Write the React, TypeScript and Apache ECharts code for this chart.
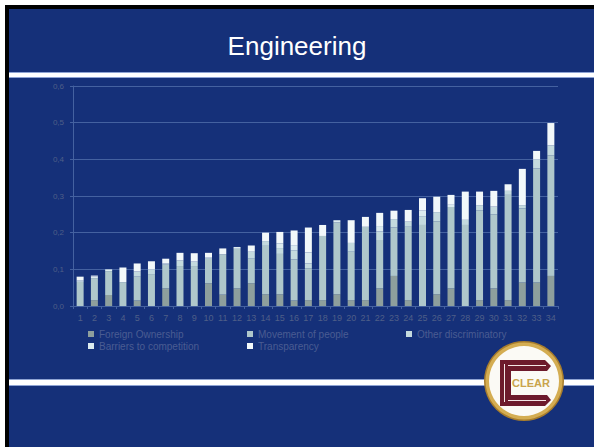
import { useEffect, useRef } from "react";
import * as echarts from "echarts";

// Country index along the x axis
const categories = [
  "1", "2", "3", "4", "5", "6", "7", "8", "9", "10", "11", "12", "13", "14", "15", "16", "17",
  "18", "19", "20", "21", "22", "23", "24", "25", "26", "27", "28", "29", "30", "31", "32", "33", "34",
];

const seriesNames = [
  "Foreign Ownership",
  "Movement of people",
  "Other discriminatory",
  "Barriers to competition",
  "Transparency",
];

const foreignOwnership = [
  0, 0.016, 0.03, 0, 0.015, 0, 0.048, 0, 0, 0.062, 0.031, 0.048, 0.062, 0.032, 0.032, 0.015, 0.016,
  0.016, 0.032, 0.016, 0.016, 0.048, 0.082, 0.016, 0, 0.032, 0.048, 0, 0.016, 0.048, 0.016, 0.064, 0.064, 0.082,
];
const movementOfPeople = [
  0.066, 0.06, 0.065, 0.065, 0.065, 0.087, 0.065, 0.109, 0.109, 0.067, 0.11, 0.108, 0.067, 0.132, 0.11, 0.112, 0.087,
  0.175, 0.196, 0.132, 0.2, 0.132, 0.132, 0.2, 0.221, 0.199, 0.222, 0.221, 0.245, 0.202, 0.287, 0.202, 0.311, 0.329,
];
const otherDiscriminatory = [
  0, 0, 0, 0, 0.014, 0.013, 0, 0.015, 0.012, 0, 0, 0, 0.019, 0.013, 0.016, 0.025, 0.013,
  0, 0, 0.024, 0, 0.023, 0.023, 0.014, 0.024, 0.025, 0, 0.014, 0.014, 0.021, 0.011, 0.009, 0.025, 0.027,
];
const barriersToCompetition = [
  0.004, 0.004, 0.005, 0, 0, 0, 0.003, 0, 0, 0.004, 0, 0.005, 0, 0, 0.013, 0.014, 0.03,
  0, 0.006, 0, 0, 0.015, 0, 0, 0.015, 0, 0.006, 0, 0, 0, 0, 0, 0, 0,
];
const transparency = [
  0.01, 0.003, 0, 0.04, 0.022, 0.022, 0.013, 0.021, 0.023, 0.012, 0.016, 0, 0.017, 0.023, 0.031, 0.04, 0.068,
  0.03, 0, 0.062, 0.027, 0.036, 0.023, 0.032, 0.034, 0.042, 0.027, 0.077, 0.037, 0.043, 0.018, 0.099, 0.023, 0.061,
];

const seriesColors = ["#8e9f9d", "#afc7cb", "#c4dade", "#dcebef", "#f2f8fa"];

const NAVY = "#153079";
const AXIS_TEXT = "#4f5f88";
const GRID_LINE = "#4461a0";

export default function App() {
  const ref = useRef<HTMLDivElement>(null);

  useEffect(() => {
    if (!ref.current) return;
    const chart = echarts.init(ref.current, undefined, { renderer: "svg" });
    const values = [foreignOwnership, movementOfPeople, otherDiscriminatory, barriersToCompetition, transparency];

    const legendText = { color: "#4a5c92", fontSize: 10, fontFamily: "Liberation Sans, Arial, sans-serif" };
    const legendBase = {
      orient: "vertical" as const,
      top: 329,
      itemWidth: 6,
      itemHeight: 6,
      itemGap: 2,
      icon: "rect",
      padding: 0,
      textStyle: legendText,
      selectedMode: false,
    };

    chart.setOption({
      animation: false,
      backgroundColor: "transparent",
      grid: { left: 73, right: 36, top: 86, bottom: 141, containLabel: false },
      legend: [
        { ...legendBase, left: 88, data: [seriesNames[0], seriesNames[3]] },
        { ...legendBase, left: 247, data: [seriesNames[1], seriesNames[4]] },
        { ...legendBase, left: 406, data: [seriesNames[2]] },
      ],
      xAxis: {
        type: "category",
        data: categories,
        axisLine: { lineStyle: { color: GRID_LINE, width: 1 } },
        axisTick: { show: true, length: 3, lineStyle: { color: GRID_LINE } },
        axisLabel: {
          color: AXIS_TEXT,
          fontSize: 9,
          margin: 7,
          interval: 0,
          fontFamily: "Liberation Sans, Arial, sans-serif",
        },
      },
      yAxis: {
        type: "value",
        min: 0,
        max: 0.6,
        interval: 0.1,
        axisLine: { show: true, lineStyle: { color: GRID_LINE } },
        axisTick: { show: true, length: 3, lineStyle: { color: GRID_LINE } },
        splitLine: { lineStyle: { color: GRID_LINE, width: 1 } },
        axisLabel: {
          color: AXIS_TEXT,
          fontSize: 8,
          margin: 9,
          fontFamily: "Liberation Sans, Arial, sans-serif",
          formatter: (v: number) => v.toFixed(1).replace(".", ","),
        },
      },
      series: seriesNames.map((name, i) => ({
        name,
        type: "bar",
        stack: "total",
        barWidth: 7,
        data: values[i],
        itemStyle: { color: seriesColors[i] },
      })),
      graphic: [
        // title
        {
          type: "text",
          left: "center",
          top: 33,
          style: {
            text: "Engineering",
            fill: "#ffffff",
            fontSize: 26,
            fontFamily: "Liberation Sans, Arial, sans-serif",
          },
        },
        // top rule
        { type: "rect", shape: { x: 9, y: 72, width: 585, height: 6 }, style: { fill: "#8ea3d3" } },
        { type: "rect", shape: { x: 9, y: 73, width: 585, height: 4 }, style: { fill: "#ffffff" } },
        // bottom rule
        { type: "rect", shape: { x: 9, y: 379, width: 585, height: 7 }, style: { fill: "#8ea3d3" } },
        { type: "rect", shape: { x: 9, y: 380, width: 585, height: 5 }, style: { fill: "#ffffff" } },
        // logo badge
        {
          type: "group",
          z: 100,
          children: [
            { type: "circle", shape: { cx: 524, cy: 381, r: 40 }, style: { fill: "#a87d2c" } },
            { type: "circle", shape: { cx: 524, cy: 381, r: 38.5 }, style: { fill: "#d4ad52" } },
            { type: "circle", shape: { cx: 524, cy: 381, r: 35 }, style: { fill: "#fbfaf5" } },
            {
              type: "polygon",
              shape: { points: [[500, 360], [545, 360], [551, 366], [547, 371], [500, 371]] },
              style: { fill: "#6d1a2c" },
            },
            { type: "rect", shape: { x: 500, y: 360, width: 11, height: 46 }, style: { fill: "#6d1a2c" } },
            {
              type: "polygon",
              shape: { points: [[500, 395], [547, 395], [551, 400], [545, 406], [500, 406]] },
              style: { fill: "#6d1a2c" },
            },
            { type: "line", shape: { x1: 504.5, y1: 364, x2: 504.5, y2: 402 }, style: { stroke: "#f4e6e6", lineWidth: 1 } },
            { type: "line", shape: { x1: 508, y1: 365.5, x2: 546, y2: 365.5 }, style: { stroke: "#f4e6e6", lineWidth: 1 } },
            { type: "line", shape: { x1: 508, y1: 400.5, x2: 546, y2: 400.5 }, style: { stroke: "#f4e6e6", lineWidth: 1 } },
            {
              type: "text",
              x: 531,
              y: 383,
              style: {
                text: "CLEAR",
                fill: "#c9a44c",
                fontSize: 11,
                fontWeight: "bold",
                fontFamily: "Liberation Sans, Arial, sans-serif",
                align: "center",
                verticalAlign: "middle",
              },
            },
          ],
        },
      ],
    });

    return () => chart.dispose();
  }, []);

  return (
    <div style={{ position: "fixed", left: 0, top: 0, width: 594, height: 447, background: "#ffffff", overflow: "hidden" }}>
      <div
        style={{
          position: "absolute",
          left: 5,
          top: 5,
          right: 0,
          bottom: 0,
          background: NAVY,
          borderLeft: "4px solid #000",
          borderTop: "4px solid #000",
        }}
      />
      <div ref={ref} style={{ position: "absolute", left: 0, top: 0, width: 594, height: 447 }} />
    </div>
  );
}
